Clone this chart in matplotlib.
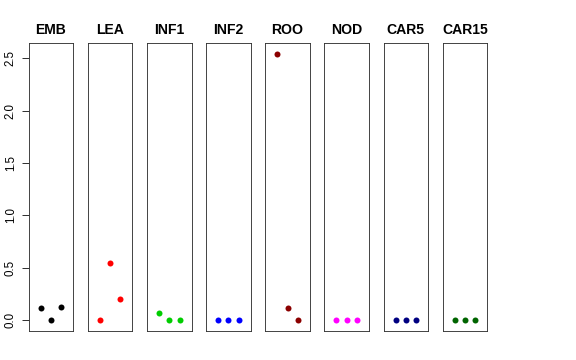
import numpy as np
import matplotlib
matplotlib.use("Agg")
import matplotlib.pyplot as plt

plt.rcParams['font.family'] = ['Liberation Sans', 'DejaVu Sans']

tissues = ["EMB", "LEA", "INF1", "INF2", "ROO", "NOD", "CAR5", "CAR15"]
colors = ["black", "red", "#00CD00", "blue", "#8B0000", "magenta", "#000080", "#006400"]
reps = [1, 2, 3]
values = {
    "EMB": [0.12, 0.0, 0.13],
    "LEA": [0.0, 0.55, 0.20],
    "INF1": [0.07, 0.0, 0.0],
    "INF2": [0.0, 0.0, 0.0],
    "ROO": [2.54, 0.12, 0.0],
    "NOD": [0.0, 0.0, 0.0],
    "CAR5": [0.0, 0.0, 0.0],
    "CAR15": [0.0, 0.0, 0.0],
}

W, H = 576, 360
fig = plt.figure(figsize=(W / 72, H / 72), dpi=72)

ymax = max(max(v) for v in values.values())
ext = 0.04 * ymax
ylim = (-ext, ymax + ext)

left0, pitch, width = 28.7, 59.14, 44.6
top, bottom = 43.3, 331.0

for i, (name, col) in enumerate(zip(tissues, colors)):
    ax = fig.add_axes([(left0 + i * pitch) / W, (H - bottom) / H,
                       width / W, (bottom - top) / H])
    ax.plot(reps, values[name], "o", color=col, markersize=6, markeredgewidth=0)
    ax.set_xlim(-0.16, 4.16)
    ax.set_ylim(*ylim)
    ax.set_xticks([])
    ax.set_title(name, fontsize=14, fontweight="bold", pad=9)
    for s in ax.spines.values():
        s.set_linewidth(0.9)
        s.set_color("#333333")
    if i == 0:
        ax.set_yticks([0, 0.5, 1.0, 1.5, 2.0, 2.5])
        ax.set_yticklabels(["0.0", "0.5", "1.0", "1.5", "2.0", "2.5"],
                           rotation=90, va="center", fontsize=11.5)
        ax.tick_params(axis="y", length=7, width=0.8, pad=5)
    else:
        ax.set_yticks([])

fig.savefig("out.png", dpi=72)
